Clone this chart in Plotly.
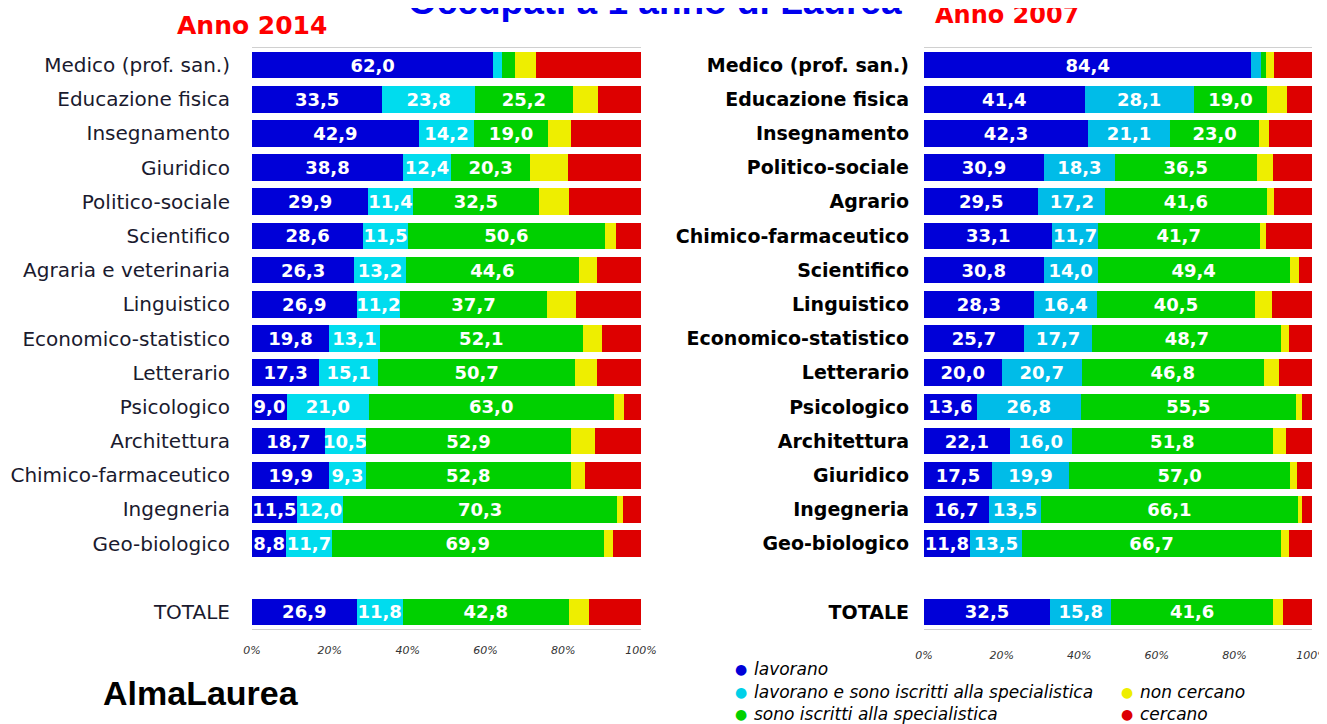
import plotly.graph_objects as go

# ---------------- data ----------------
cats_2014 = ["Medico (prof. san.)", "Educazione fisica", "Insegnamento", "Giuridico",
             "Politico-sociale", "Scientifico", "Agraria e veterinaria", "Linguistico",
             "Economico-statistico", "Letterario", "Psicologico", "Architettura",
             "Chimico-farmaceutico", "Ingegneria", "Geo-biologico", "TOTALE"]
lav_2014 = [62.0, 33.5, 42.9, 38.8, 29.9, 28.6, 26.3, 26.9, 19.8, 17.3, 9.0, 18.7, 19.9, 11.5, 8.8, 26.9]
lavisc_2014 = [2.3, 23.8, 14.2, 12.4, 11.4, 11.5, 13.2, 11.2, 13.1, 15.1, 21.0, 10.5, 9.3, 12.0, 11.7, 11.8]
isc_2014 = [3.4, 25.2, 19.0, 20.3, 32.5, 50.6, 44.6, 37.7, 52.1, 50.7, 63.0, 52.9, 52.8, 70.3, 69.9, 42.8]
noncerc_2014 = [5.2, 6.5, 5.8, 9.8, 7.7, 3.0, 4.5, 7.5, 5.1, 5.5, 2.7, 6.1, 3.7, 1.5, 2.5, 5.1]
cerc_2014 = [27.1, 11.0, 18.1, 18.7, 18.5, 6.3, 11.4, 16.7, 9.9, 11.4, 4.3, 11.8, 14.3, 4.7, 7.1, 13.4]

cats_2007 = ["Medico (prof. san.)", "Educazione fisica", "Insegnamento", "Politico-sociale",
             "Agrario", "Chimico-farmaceutico", "Scientifico", "Linguistico",
             "Economico-statistico", "Letterario", "Psicologico", "Architettura",
             "Giuridico", "Ingegneria", "Geo-biologico", "TOTALE"]
lav_2007 = [84.4, 41.4, 42.3, 30.9, 29.5, 33.1, 30.8, 28.3, 25.7, 20.0, 13.6, 22.1, 17.5, 16.7, 11.8, 32.5]
lavisc_2007 = [2.4, 28.1, 21.1, 18.3, 17.2, 11.7, 14.0, 16.4, 17.7, 20.7, 26.8, 16.0, 19.9, 13.5, 13.5, 15.8]
isc_2007 = [1.3, 19.0, 23.0, 36.5, 41.6, 41.7, 49.4, 40.5, 48.7, 46.8, 55.5, 51.8, 57.0, 66.1, 66.7, 41.6]
noncerc_2007 = [2.1, 5.1, 2.5, 4.2, 1.9, 1.6, 2.4, 4.4, 2.0, 4.1, 1.4, 3.4, 1.7, 1.0, 2.1, 2.7]
cerc_2007 = [9.8, 6.4, 11.1, 10.1, 9.8, 11.9, 3.4, 10.4, 5.9, 8.4, 2.7, 6.7, 3.9, 2.7, 5.9, 7.4]

series_names = ["lavorano", "lavorano e sono iscritti alla specialistica",
                "sono iscritti alla specialistica", "non cercano", "cercano"]
tick_vals = [0, 20, 40, 60, 80, 100]
tick_text = ["0%", "20%", "40%", "60%", "80%", "100%"]

# ---------------- style ----------------
W, H = 1327, 724
OFF = 8  # page body margin: figure starts at (8, 8) in the window
def fx(x):
    return (x - OFF) / W
def fy(y):
    return 1 - (y - OFF) / H

col_2014 = ["#0000d8", "#00dcee", "#00d000", "#eeee00", "#dd0000"]
col_2007 = ["#0000d8", "#00bce8", "#00d000", "#eeee00", "#dd0000"]
labelled = [True, True, True, False, False]

fig = go.Figure()

def fmt(v):
    return f"{v:.1f}".replace(".", ",") if v >= 5 else ""

def add_panel(cats, vals, cols, xa, ya):
    ycats = cats[:-1] + [" "] + cats[-1:]
    for i, (name, v) in enumerate(zip(series_names, vals)):
        fig.add_trace(go.Bar(
            y=cats, x=v, name=name, orientation="h", xaxis=xa, yaxis=ya,
            marker=dict(color=cols[i], line=dict(width=0)),
            text=[fmt(a) for a in v] if labelled[i] else None,
            textposition="inside" if labelled[i] else "none",
            insidetextanchor="middle", constraintext="none", textangle=0,
            textfont=dict(family="DejaVu Sans", size=18, color="white", weight="bold"),
            showlegend=False, hoverinfo="x+y+name",
        ))
    return ycats

yc1 = add_panel(cats_2014, [lav_2014, lavisc_2014, isc_2014, noncerc_2014, cerc_2014], col_2014, "x", "y")
yc2 = add_panel(cats_2007, [lav_2007, lavisc_2007, isc_2007, noncerc_2007, cerc_2007], col_2007, "x2", "y2")

ydom = [fy(629), fy(48)]
axis_common = dict(range=[0, 100], tickvals=tick_vals, ticktext=tick_text, showgrid=False,
                   zeroline=False, showline=True, mirror=True, linecolor="#d0d0d0", linewidth=1,
                   ticks="", fixedrange=True, automargin=False)

fig.update_layout(
    width=W, height=H,
    margin=dict(l=0, r=0, t=0, b=0, autoexpand=False),
    paper_bgcolor="white", plot_bgcolor="white",
    barmode="stack", bargap=0.22,
    separators=",.",
    xaxis=dict(domain=[fx(252), fx(641)], anchor="y", **axis_common,
               ticklabelstandoff=11,
               tickfont=dict(family="DejaVu Sans", size=11, color="#333333", style="italic")),
    yaxis=dict(domain=ydom, anchor="x", type="category", categoryorder="array",
               categoryarray=yc1, range=[len(yc1) - 0.5, -0.5], automargin=False,
               showgrid=False, zeroline=False, showline=False, ticks="",
               ticklabelstandoff=21, fixedrange=True,
               tickfont=dict(family="DejaVu Sans", size=20, color="#1a1a2e")),
    xaxis2=dict(domain=[fx(924), fx(1312)], anchor="y2", **axis_common,
                ticklabelstandoff=16,
                tickfont=dict(family="DejaVu Sans", size=11, color="#333333", style="italic")),
    yaxis2=dict(domain=ydom, anchor="x2", type="category", categoryorder="array",
                categoryarray=yc2, range=[len(yc2) - 0.5, -0.5], automargin=False,
                showgrid=False, zeroline=False, showline=False, ticks="",
                ticklabelstandoff=14, fixedrange=True,
                tickfont=dict(family="DejaVu Sans", size=19, color="black", weight="bold")),
)

def ann(text, x, y, size, color, bold=False, italic=False, family="DejaVu Sans", xanchor="center"):
    fig.add_annotation(text=text, x=fx(x), y=fy(y), xref="paper", yref="paper",
                       xanchor=xanchor, yanchor="middle", showarrow=False,
                       font=dict(family=family, size=size, color=color,
                                 weight="bold" if bold else "normal",
                                 style="italic" if italic else "normal"))

ann("Occupati a 1 anno di Laurea", 655, 1, 37, "#0000ee", bold=True, family="Liberation Sans")
ann("Anno 2014", 252, 26, 25, "#ff0000", bold=True, family="DejaVu Sans")
ann("Anno 2007", 1007, 15, 24, "#ff0000", bold=True, family="DejaVu Sans")
ann("AlmaLaurea", 201, 693, 34, "black", bold=True, family="Liberation Sans")

legend_items = [
    (series_names[0], col_2014[0], 741, 669),
    (series_names[1], "#00d0e8", 741, 692),
    (series_names[2], col_2014[2], 741, 714),
    (series_names[3], col_2014[3], 1127, 692),
    (series_names[4], col_2014[4], 1127, 714),
]
for name, c, x, y in legend_items:
    ann("●", x, y, 14, c)
    ann(name, x + 11, y, 17, "black", italic=True, xanchor="left")

fig.write_html("out.html")
